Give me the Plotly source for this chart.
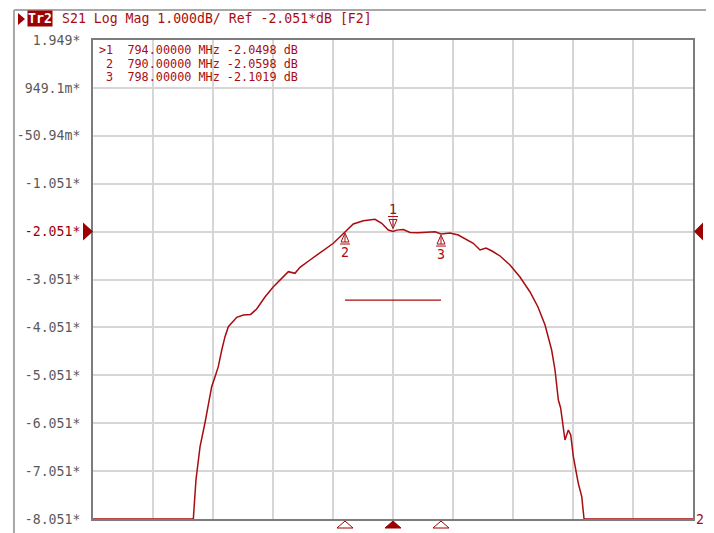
import plotly.graph_objects as go

# ---------------- data ----------------
freq_mhz = [769.0, 777.36, 777.58, 777.92, 778.33, 778.61, 778.89, 779.17, 779.44, 779.73,
            780.00, 780.28, 780.56, 780.98, 781.53, 782.14, 782.64, 783.33, 784.03, 784.73,
            785.28, 785.83, 786.25, 787.08, 788.19, 789.03, 790.00, 790.69, 791.53, 792.50,
            793.06, 793.61, 794.00, 794.31, 794.86, 795.42, 796.11, 797.50, 798.00, 798.75,
            799.44, 800.14, 800.69, 801.25, 801.75, 802.25, 802.92, 803.75, 804.58, 805.42,
            806.08, 806.67, 807.22, 807.50, 807.78, 807.97, 808.19, 808.33, 808.61, 808.81,
            809.03, 809.44, 809.73, 809.92, 819.0]
s21_db = [-8.051, -8.051, -7.237, -6.542, -6.047, -5.629, -5.289, -5.080, -4.871, -4.523,
          -4.245, -4.036, -3.953, -3.840, -3.792, -3.780, -3.667, -3.416, -3.201, -3.013,
          -2.888, -2.922, -2.796, -2.644, -2.450, -2.295, -2.0598, -1.892, -1.823, -1.794,
          -1.878, -2.018, -2.0498, -2.020, -2.007, -2.070, -2.074, -2.053, -2.1019, -2.080,
          -2.122, -2.226, -2.295, -2.435, -2.393, -2.456, -2.560, -2.748, -2.999, -3.312,
          -3.625, -4.001, -4.523, -4.940, -5.567, -5.734, -6.193, -6.402, -6.193, -6.297,
          -6.750, -7.306, -7.585, -8.051, -8.051]

marker_ids = ["1", "2", "3"]
marker_freq = [794.0, 790.0, 798.0]
marker_db = [-2.0498, -2.0598, -2.1019]
marker_rows = [">1  794.00000 MHz -2.0498 dB",
               " 2  790.00000 MHz -2.0598 dB",
               " 3  798.00000 MHz -2.1019 dB"]
active_marker = 0

limit_freq = [790.0, 798.0]
limit_db = [-3.48, -3.48]

x_start, x_stop, x_div = 769.0, 819.0, 5.0
ref_level = -2.051
tick_vals = [1.949, 0.949, -0.051, -1.051, -2.051, -3.051, -4.051, -5.051, -6.051, -7.051, -8.051]
tick_labels = ["1.949*", "949.1m*", "-50.94m*", "-1.051*", "-2.051*", "-3.051*",
               "-4.051*", "-5.051*", "-6.051*", "-7.051*", "-8.051*"]
header_text = "S21 Log Mag 1.000dB/ Ref -2.051*dB [F2]"
trace_name = "Tr2"
channel_label = "2"

# ---------------- style ----------------
RED = "#a80c10"
DARK = "#9c0000"
MONO = "DejaVu Sans Mono"
FS = 13.2
FS_TABLE = 11.8

tick_text = [f"<span style='color:{DARK}'>{t}</span>" if v == ref_level else t
             for v, t in zip(tick_vals, tick_labels)]

fig = go.Figure()
fig.add_trace(go.Scatter(x=freq_mhz, y=s21_db, mode="lines",
                         line=dict(color=RED, width=1.5), hoverinfo="skip"))
fig.add_trace(go.Scatter(x=limit_freq, y=limit_db, mode="lines",
                         line=dict(color=RED, width=1.3), hoverinfo="skip"))

shapes = []
annotations = []

# markers on the trace
for i, (mid, mf, md) in enumerate(zip(marker_ids, marker_freq, marker_db)):
    if i == active_marker:
        path = "M 0,3 L -4,12 L 4,12 Z M 0,5 L 0,12 M -5,15 L 5,15"
        ysh = 22
    else:
        path = "M 0,-1 L -4,-10 L 4,-10 Z M 0,-3 L 0,-10 M -5,-12 L 5,-12"
        ysh = -20
    shapes.append(dict(type="path", xref="x", yref="y", xsizemode="pixel", ysizemode="pixel",
                       xanchor=mf, yanchor=md, path=path,
                       line=dict(color=RED, width=1)))
    annotations.append(dict(x=mf, y=md, xref="x", yref="y", text=mid, showarrow=False,
                            yshift=ysh, font=dict(family=MONO, size=FS, color=RED)))
    # bottom position indicators
    shapes.append(dict(type="path", xref="x", yref="paper", xsizemode="pixel", ysizemode="pixel",
                       xanchor=mf, yanchor=0, path="M 0,-2 L -8,-9 L 8,-9 Z",
                       fillcolor=DARK if i == active_marker else "white",
                       line=dict(color=DARK, width=1)))

# reference level arrows
shapes.append(dict(type="path", xref="paper", yref="y", xsizemode="pixel", ysizemode="pixel",
                   xanchor=0, yanchor=ref_level, path="M 0,0 L -10,9 L -10,-9 Z",
                   fillcolor=DARK, line=dict(color=DARK, width=0)))
shapes.append(dict(type="path", xref="paper", yref="y", xsizemode="pixel", ysizemode="pixel",
                   xanchor=1, yanchor=ref_level, path="M 1,0 L 10,9 L 10,-9 Z",
                   fillcolor=DARK, line=dict(color=DARK, width=0)))

# header triangle
shapes.append(dict(type="path", xref="paper", yref="paper", xsizemode="pixel", ysizemode="pixel",
                   xanchor=0, yanchor=1, path="M -75,27 L -68,21 L -75,15 Z",
                   fillcolor=DARK, line=dict(color=DARK, width=0)))

# window frame
shapes.append(dict(type="line", xref="paper", yref="paper", x0=-0.1317, x1=-0.1317,
                   y0=-0.05, y1=1.0626, line=dict(color="#a8a8a8", width=2)))
shapes.append(dict(type="line", xref="paper", yref="paper", x0=-0.1317, x1=1.025,
                   y0=1.0626, y1=1.0626, line=dict(color="#a8a8a8", width=2)))
shapes.append(dict(type="line", xref="paper", yref="paper", x0=1.025, x1=1.025,
                   y0=-0.05, y1=1.0626, line=dict(color="#c8c8c8", width=2)))

# header text
annotations.append(dict(xref="paper", yref="paper", x=0, y=1, xshift=-66, yshift=22,
                        xanchor="left", yanchor="middle", text=f"<b>{trace_name}</b>",
                        showarrow=False, bgcolor=DARK, borderpad=0,
                        font=dict(family=MONO, size=FS, color="white")))
annotations.append(dict(xref="paper", yref="paper", x=0, y=1, xshift=-33, yshift=22,
                        xanchor="left", yanchor="middle", text=header_text,
                        showarrow=False, font=dict(family=MONO, size=FS, color=RED)))

# marker table
for k, row in enumerate(marker_rows):
    annotations.append(dict(xref="paper", yref="paper", x=0, y=1, xshift=4,
                            yshift=-10 - 13.6 * k, xanchor="left", yanchor="middle",
                            text=row.replace(" ", "&nbsp;"), showarrow=False,
                            font=dict(family=MONO, size=FS_TABLE, color=RED)))

# channel label
annotations.append(dict(xref="paper", yref="paper", x=1, y=0, xshift=1, yshift=0,
                        xanchor="left", yanchor="middle", text=channel_label, showarrow=False,
                        font=dict(family=MONO, size=FS, color=RED)))

# page body adds an 8px offset, so the figure is sized to fit the window
fig.update_layout(
    width=706, height=525,
    margin=dict(l=85, r=21, t=32, b=14),
    paper_bgcolor="white", plot_bgcolor="white",
    showlegend=False,
    shapes=shapes, annotations=annotations,
    xaxis=dict(range=[x_start, x_stop], dtick=x_div, tick0=x_start, showticklabels=False,
               showgrid=True, gridcolor="#d6d6d6", gridwidth=2, zeroline=False,
               showline=True, mirror=True, linecolor="#7c7c7c", linewidth=2, ticks="",
               automargin=False),
    yaxis=dict(range=[-8.051, 1.949], tickvals=tick_vals, ticktext=tick_text,
               showgrid=True, gridcolor="#d6d6d6", gridwidth=2, zeroline=False,
               showline=True, mirror=True, linecolor="#7c7c7c", linewidth=2, ticks="",
               ticklabelstandoff=8, automargin=False,
               tickfont=dict(family=MONO, size=FS, color="#5a5a5a")),
)

fig.write_html("out.html")
